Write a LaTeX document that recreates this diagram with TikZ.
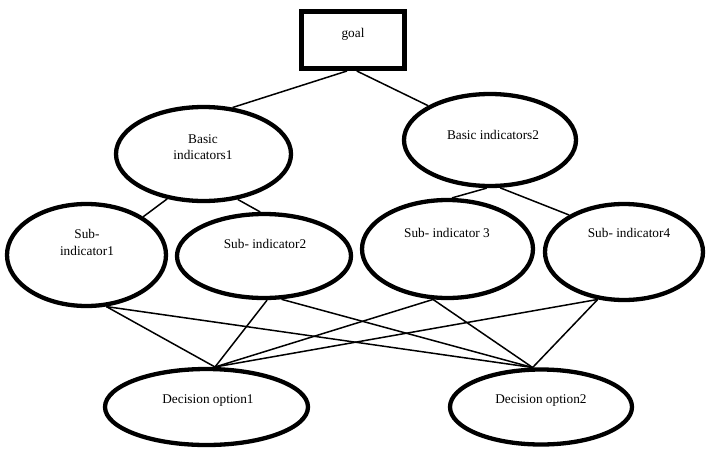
\documentclass[tikz,border=0pt]{standalone}
\usepackage{fontspec}
\setmainfont{Liberation Serif}
\usetikzlibrary{shapes.geometric}
\begin{document}
\begin{tikzpicture}[x=1pt,y=-1pt,
  oval/.style={draw, ellipse, line width=4.3pt, inner sep=0pt},
  goalbox/.style={draw, rectangle, line width=5pt, inner sep=0pt},
  lbl/.style={font=\fontsize{13.3}{17}\selectfont, align=center, inner sep=0pt},
  link/.style={line width=1.5pt}]
\fill[white] (0,0) rectangle (706,450);
\useasboundingbox (0,0) rectangle (706,450);
% shapes
\node[goalbox, minimum width=103pt, minimum height=57pt] (goal) at (353,40) {};
\node[oval, minimum width=175pt, minimum height=94pt] (bi1) at (203.5,154) {};
\node[oval, minimum width=172pt, minimum height=92pt] (bi2) at (490,140) {};
\node[oval, minimum width=159pt, minimum height=102pt] (s1) at (86.5,255) {};
\node[oval, minimum width=174pt, minimum height=84pt] (s2) at (264,256) {};
\node[oval, minimum width=171pt, minimum height=98pt] (s3) at (447.5,249) {};
\node[oval, minimum width=158pt, minimum height=96pt] (s4) at (624,252) {};
\node[oval, minimum width=203pt, minimum height=76pt] (d1) at (206.5,407) {};
\node[oval, minimum width=182pt, minimum height=75pt] (d2) at (541,407) {};
% texts
\node[lbl, anchor=base] (tgoal) at (353,37) {goal};
\node[lbl, font=\fontsize{13.3}{15.3}\selectfont] (tbi1) at (203,147.2) {Basic\\indicators1};
\node[lbl, anchor=base] (tbi2) at (493,139) {Basic indicators2};
\node[lbl] (ts1) at (87,242.7) {Sub-\\indicator1};
\node[lbl, anchor=base] (ts2) at (265,248.5) {Sub- indicator2};
\node[lbl, anchor=base] (ts3) at (447,237) {Sub- indicator 3};
\node[lbl, anchor=base] (ts4) at (629,237) {Sub- indicator4};
\node[lbl, anchor=base] (td1) at (208,403) {Decision option1};
\node[lbl, anchor=base] (td2) at (541,403) {Decision option2};
% connectors
\draw[link] (goal.-101) -- (bi1.58);
\draw[link] (goal.-83) -- (bi2.151);
\draw[link] (bi1.-129) -- (s1.34);
\draw[link] (bi1.-53) -- (s2.95);
\draw[link] (bi2.-94) -- (s3.85);
\draw[link] (bi2.-78) -- (s4.146);
\draw[link] (s1.-69) -- (d1.78);
\draw[link] (s1.-69) -- (d2.102);
\draw[link] (s2.-86) -- (d1.78);
\draw[link] (s2.-68) -- (d2.102);
\draw[link] (s3.-106) -- (d1.78);
\draw[link] (s3.-106) -- (d2.102);
\draw[link] (s4.-119) -- (d1.78);
\draw[link] (s4.-119) -- (d2.102);
\end{tikzpicture}
\end{document}
